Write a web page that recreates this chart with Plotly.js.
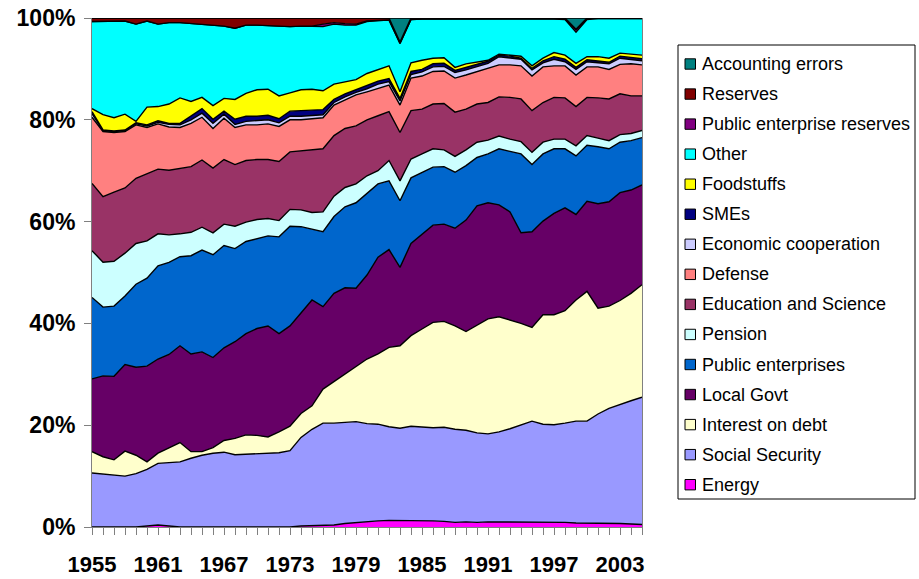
<!DOCTYPE html>
<html>
<head>
<meta charset="utf-8">
<script src="https://cdn.plot.ly/plotly-3.0.1.min.js"></script>
<style>html,body{margin:0;padding:0;background:#fff;}#chart{width:919px;height:579px;}</style>
</head>
<body>
<div id="chart"></div>
<script>
const years = [1955,1956,1957,1958,1959,1960,1961,1962,1963,1964,1965,1966,1967,1968,1969,1970,1971,1972,1973,1974,1975,1976,1977,1978,1979,1980,1981,1982,1983,1984,1985,1986,1987,1988,1989,1990,1991,1992,1993,1994,1995,1996,1997,1998,1999,2000,2001,2002,2003,2004,2005];
const yearLabels = [1955,1961,1967,1973,1979,1985,1991,1997,2003];
const yTickValues = [0, 20, 40, 60, 80, 100];
const yTickLabels = ['0%', '20%', '40%', '60%', '80%', '100%'];

const energy = [0,0,0,0,0,0.2,0.4,0.2,0,0, 0,0,0,0,0,0,0,0,0,0.2, 0.3,0.3,0.4,0.7,0.9,1.0,1.2,1.3,1.3,1.3, 1.3,1.2,1.1,0.9,1.0,0.9,1.0,1.0,1.0,1.0, 1.0,1.0,1.0,0.9,0.8,0.8,0.8,0.7,0.7,0.6, 0.5];
const socialSecurity = [10.6,10.4,10.2,10.0,10.5,11.1,12.1,12.4,12.8,13.5, 14.1,14.5,14.7,14.2,14.3,14.3,14.4,14.6,15.0,17.4, 18.9,20.1,20.0,19.9,19.8,19.3,19.0,18.4,18.1,18.5, 18.4,18.3,18.5,18.3,18.0,17.6,17.3,17.7,18.3,19.0, 19.8,19.2,19.1,19.5,20.0,20.0,21.4,22.6,23.4,24.2, 25.0];
const interestOnDebt = [4.2,3.4,3.0,4.9,3.6,1.5,2.0,2.9,3.8,1.3, 0.7,1.1,2.3,3.2,3.8,3.7,3.3,4.1,4.8,4.7, 4.6,6.7,8.2,9.5,10.8,12.7,13.8,15.6,16.2,17.8, 19.2,20.7,20.8,20.3,19.4,21.2,22.6,22.6,21.4,20.0, 18.4,21.5,21.6,22.1,23.8,25.5,20.8,20.1,20.4,21.1, 22.1];
const localGovt = [14.3,15.9,16.4,17.0,17.3,18.8,18.5,18.4,19.0,19.2, 19.6,17.7,18.2,19.0,19.9,21.0,21.8,19.3,19.7,19.8, 20.8,16.2,17.3,16.9,15.4,16.5,19.0,19.2,15.4,18.1, 18.6,19.1,19.1,19.2,21.9,23.4,22.8,22.0,21.2,17.8, 18.8,18.4,19.9,20.2,16.8,17.7,20.5,20.5,21.2,20.3, 19.6];
const publicEnterprises = [16.0,13.5,13.8,13.5,16.3,17.3,18.3,18.1,17.5,19.3, 20.0,20.2,20.1,18.3,18.1,17.7,17.7,19.0,19.6,16.9, 13.9,14.7,15.1,15.9,16.8,16.0,14.4,13.5,13.1,12.9, 12.2,11.4,11.3,11.0,10.7,9.5,9.6,11.0,11.9,15.5, 13.2,13.2,12.7,11.6,11.5,11.0,11.2,10.4,9.9,9.7, 9.3];
const pension = [9.2,8.8,8.8,8.4,8.0,7.3,6.3,5.4,4.5,4.6, 4.5,4.3,4.2,4.4,3.8,3.7,3.4,3.2,3.3,3.3, 3.3,3.9,4.0,3.8,3.7,3.5,2.6,4.0,3.9,3.7, 3.6,3.6,3.3,3.1,3.1,3.0,2.7,2.5,2.4,2.4, 2.4,2.3,1.9,1.9,2.0,1.9,1.7,1.6,1.5,1.4, 1.4];
const educationScience = [13.2,12.9,13.6,12.8,12.8,13.2,12.7,12.7,12.9,12.9, 13.2,12.7,12.7,12.1,12.1,11.8,11.6,11.6,11.3,11.6, 12.3,12.4,11.9,11.6,11.4,11.0,10.8,9.6,9.5,9.5, 8.8,8.8,9.1,8.7,8.0,7.5,7.4,7.7,8.2,8.4, 8.2,7.8,8.2,8.1,7.7,7.5,7.9,8.2,8.0,7.4, 6.8];
const defense = [13.0,12.8,11.7,11.1,10.5,9.1,8.9,8.5,8.0,8.5, 8.4,7.8,8.1,7.3,7.0,6.8,7.0,6.9,6.3,6.1, 6.1,6.1,6.0,5.6,6.1,5.5,5.4,5.2,5.4,6.4, 6.5,6.4,6.4,6.7,6.7,6.4,6.7,6.3,6.4,6.5, 6.8,7.0,6.2,6.3,6.2,6.0,6.1,5.8,5.8,6.3, 6.1];
const economicCooperation = [0.7,0.2,0.2,0.2,0.2,0.3,0.3,0.5,0.5,0.7, 0.8,1.0,0.8,0.6,0.7,0.8,0.8,0.7,0.7,0.7, 0.7,0.6,0.5,0.6,0.5,0.6,0.8,0.7,0.8,0.7, 0.8,0.9,0.9,1.1,1.0,0.9,1.0,1.6,1.4,1.3, 1.2,0.8,1.3,0.8,1.1,1.0,0.8,1.1,1.2,0.9, 0.8];
const smes = [0.4,0.1,0.1,0.1,0.2,0.2,0.3,0.2,0.3,0.7, 0.9,0.8,0.6,1.0,1.0,0.9,0.9,0.8,1.0,1.1, 1.0,1.0,0.6,0.6,0.5,0.6,0.6,0.6,0.5,0.6, 0.5,0.6,0.6,0.4,0.5,0.4,0.4,0.3,0.3,0.2, 0.3,0.4,0.5,0.5,0.4,0.4,0.4,0.3,0.4,0.4, 0.4];
const foodstuffs = [0.6,3.0,2.6,3.1,0.3,3.5,2.8,3.8,5.0,2.9, 2.2,2.7,2.5,3.9,4.5,5.2,5.1,4.5,3.6,4.1, 4.1,3.7,3.0,2.4,2.0,2.4,2.3,2.5,1.3,1.7, 1.8,1.1,1.1,0.6,0.7,0.6,0.2,0.2,0.2,0.4, 0.5,0.5,0.8,0.8,0.8,0.6,0.8,0.8,0.6,0.6, 0.7];
const other = [17.1,18.3,18.9,18.3,19.1,16.9,16.2,16.0,14.8,15.3, 14.4,15.7,14.2,14.0,13.4,12.7,12.5,13.6,13.0,12.5, 12.4,12.6,11.8,11.1,10.7,10.2,9.6,9.0,9.5,8.5, 8.1,7.7,7.7,9.6,8.9,8.5,8.2,7.0,7.2,7.4, 9.3,7.8,6.6,7.0,6.1,7.3,7.5,7.8,6.8,7.0, 7.2];
const publicEnterpriseReserves = [0,0,0,0,0,0,0,0,0,0, 0,0,0,0,0,0,0,0,0,0, 0,0.5,0.3,0.3,0.2,0.1,0,0,0,0, 0,0,0,0,0,0,0,0,0,0, 0,0,0.1,0.2,0.5,0.2,0,0,0,0, 0];
const reserves = [0.7,0.7,0.7,0.6,1.2,0.6,1.2,0.9,0.9,1.1, 1.2,1.5,1.6,2.0,1.4,1.4,1.5,1.7,1.7,1.6, 1.6,1.2,0.9,1.1,1.2,0.6,0.5,0.4,0.3,0.3, 0.2,0.2,0.1,0.1,0.1,0.1,0.1,0.1,0.1,0.1, 0.1,0.1,0.1,0.1,0.1,0.1,0.1,0.1,0.1,0.1, 0.1];
const accountingErrors = [0,0,0,0,0,0,0,0,0,0, 0,0,0,0,0,0,0,0,0,0, 0,0,0,0,0,0,0,0,4.7,0, 0,0,0,0,0,0,0,0,0,0, 0,0,0,0,2.2,0,0,0,0,0, 0];

// stacking order: bottom to top
const series = [
  {name: 'Energy', values: energy, color: '#FF00FF'},
  {name: 'Social Security', values: socialSecurity, color: '#9999FF'},
  {name: 'Interest on debt', values: interestOnDebt, color: '#FFFFCC'},
  {name: 'Local Govt', values: localGovt, color: '#660066'},
  {name: 'Public enterprises', values: publicEnterprises, color: '#0066CC'},
  {name: 'Pension', values: pension, color: '#CCFFFF'},
  {name: 'Education and Science', values: educationScience, color: '#993366'},
  {name: 'Defense', values: defense, color: '#FF8080'},
  {name: 'Economic cooperation', values: economicCooperation, color: '#CCCCFF'},
  {name: 'SMEs', values: smes, color: '#000080'},
  {name: 'Foodstuffs', values: foodstuffs, color: '#FFFF00'},
  {name: 'Other', values: other, color: '#00FFFF'},
  {name: 'Public enterprise reserves', values: publicEnterpriseReserves, color: '#800080'},
  {name: 'Reserves', values: reserves, color: '#800000'},
  {name: 'Accounting errors', values: accountingErrors, color: '#008080'}
];

const traces = series.map(s => ({
  type: 'scatter', mode: 'lines', name: s.name,
  x: years, y: s.values,
  stackgroup: 'one', groupnorm: 'percent',
  fillcolor: s.color,
  line: {color: '#000000', width: 1.4, shape: 'linear'},
  showlegend: false
}));

// plot-area pixel geometry
const L = 92, R = 642, T = 18, B = 527;
const px = v => (v - L) / (R - L);
const py = v => (B - v) / (B - T);

const shapes = [];
const annotations = [];
// legend box
shapes.push({type: 'rect', xref: 'paper', yref: 'paper', x0: px(678), x1: px(915), y0: py(499), y1: py(45),
  line: {color: '#000000', width: 1}, fillcolor: 'rgba(0,0,0,0)'});
const legendOrder = series.slice().reverse();
legendOrder.forEach((s, k) => {
  const cy = 64 + 30.05 * k;
  shapes.push({type: 'rect', xref: 'paper', yref: 'paper', x0: px(685), x1: px(695.5), y0: py(cy + 5.2), y1: py(cy - 5.2),
    line: {color: '#000000', width: 1}, fillcolor: s.color});
  annotations.push({xref: 'paper', yref: 'paper', x: px(700), y: py(cy), xanchor: 'left', yanchor: 'middle',
    showarrow: false, text: s.name, font: {family: 'Arial, Liberation Sans, sans-serif', size: 18, color: '#000000'}});
});

const tickText = years.map(y => yearLabels.includes(y) ? String(y) : '');

const layout = {
  width: 919, height: 579,
  margin: {l: L, r: 919 - R, t: T, b: 579 - B, pad: 0},
  paper_bgcolor: '#ffffff', plot_bgcolor: '#ffffff',
  showlegend: false,
  xaxis: {
    range: [1955, 2005], tickmode: 'array', tickvals: years, ticktext: tickText,
    ticks: 'outside', ticklen: 7, tickcolor: '#808080', tickwidth: 1,
    showline: true, linecolor: '#808080', linewidth: 1,
    showgrid: false, zeroline: false, ticklabelstandoff: 11,
    tickfont: {family: 'Arial, Liberation Sans, sans-serif', size: 22, color: '#000000', weight: 'bold'}
  },
  yaxis: {
    range: [0, 100], tickmode: 'array', tickvals: yTickValues, ticktext: yTickLabels,
    ticks: 'outside', ticklen: 7, tickcolor: '#808080', tickwidth: 1,
    showline: true, linecolor: '#808080', linewidth: 1, mirror: true,
    showgrid: false, zeroline: false, ticklabelstandoff: 4,
    tickfont: {family: 'Arial, Liberation Sans, sans-serif', size: 23, color: '#000000', weight: 'bold'}
  },
  shapes: shapes,
  annotations: annotations
};

Plotly.newPlot('chart', traces, layout, {displayModeBar: false, staticPlot: true});
</script>
</body>
</html>
